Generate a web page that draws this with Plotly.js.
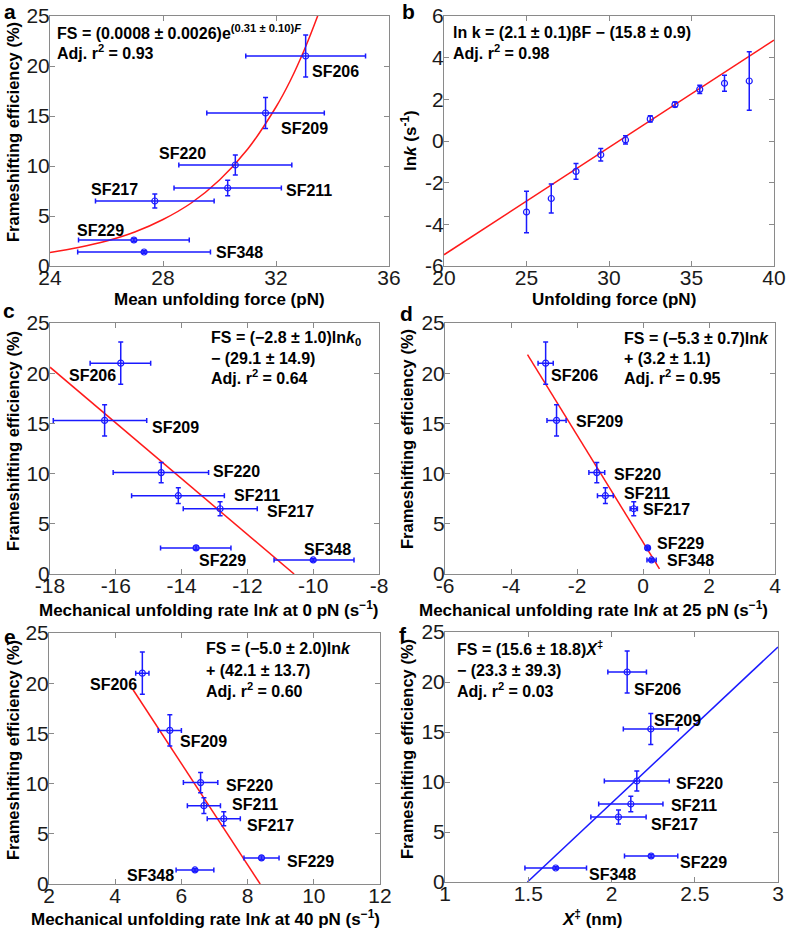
<!DOCTYPE html>
<html>
<head>
<meta charset="utf-8">
<script src="https://cdn.plot.ly/plotly-3.0.1.min.js"></script>
<style>html,body{margin:0;padding:0;background:#fff;}#chart{width:787px;height:933px;}</style>
</head>
<body>
<div id="chart"></div>
<script>
// ---------------- DATA ----------------
const constructs = ['SF206', 'SF209', 'SF220', 'SF211', 'SF217', 'SF229', 'SF348'];
const fsEff = [21.0, 15.3, 10.1, 7.8, 6.5, 2.6, 1.4];
const fsErr = [2.1, 1.55, 1.0, 0.78, 0.7, 0.18, 0.12];

// panel a: mean unfolding force
const meanForce = [33.05, 31.63, 30.56, 30.29, 27.71, 26.97, 27.33];
const meanForceErr = [2.12, 2.08, 2.0, 1.9, 2.1, 1.96, 2.35];
const fitA_force = [24, 25, 26, 27, 28, 29, 30, 31, 32, 32.5, 33, 33.5, 33.7];
const fitA_fs = [1.35, 1.85, 2.5, 3.4, 4.65, 6.3, 8.6, 11.7, 15.9, 18.5, 21.6, 25.2, 26.8];

// panel b: lnk vs unfolding force
const forceB = [25, 26.5, 28, 29.5, 31, 32.5, 34, 35.5, 37, 38.5];
const lnkB = [-3.41, -2.76, -1.46, -0.66, 0.05, 1.06, 1.75, 2.48, 2.77, 2.88];
const lnkBErr = [1.0, 0.7, 0.38, 0.3, 0.2, 0.15, 0.12, 0.2, 0.38, 1.4];
const fitB_force = [20, 40];
const fitB_lnk = [-5.46, 4.84];

// panel c: lnk at 0 pN
const lnk0 = [-15.85, -16.34, -14.62, -14.1, -12.83, -13.56, -10.0];
const lnk0ErrPlus = [0.91, 1.28, 1.44, 1.40, 1.13, 1.06, 1.24];
const lnk0ErrMinus = [0.93, 1.56, 1.46, 1.42, 1.12, 1.08, 1.19];
const fitC_x = [-18, -10.58];
const fitC_y = [20.6, 0];

// panel d: lnk at 25 pN
const lnk25 = [-2.95, -2.62, -1.4, -1.14, -0.28, 0.14, 0.26];
const lnk25Err = [0.23, 0.29, 0.24, 0.24, 0.11, 0.05, 0.14];
const fitD_x = [-3.5, 0.5];
const fitD_y = [21.85, 0.5];

// panel e: lnk at 40 pN
const lnk40 = [4.82, 5.65, 6.58, 6.68, 7.28, 8.42, 6.41];
const lnk40Err = [0.2, 0.35, 0.52, 0.5, 0.5, 0.53, 0.57];
const fitE_x = [4.54, 8.38];
const fitE_y = [19.35, 0];

// panel f: X‡
const xDagger = [2.094, 2.236, 2.152, 2.116, 2.042, 2.238, 1.665];
const xDaggerErr = [0.116, 0.165, 0.195, 0.193, 0.166, 0.16, 0.185];
const fitF_x = [1.495, 3];
const fitF_y = [0, 23.5];

// tick labels
const ticksA_x = [24, 28, 32, 36];
const ticksFS = [0, 5, 10, 15, 20, 25];
const ticksB_x = [20, 25, 30, 35, 40];
const ticksB_y = [-6, -4, -2, 0, 2, 4, 6];
const ticksC_x = [-18, -16, -14, -12, -10, -8];
const ticksD_x = [-6, -4, -2, 0, 2, 4];
const ticksE_x = [2, 4, 6, 8, 10, 12];
const ticksF_x = [1, 1.5, 2, 2.5, 3];

// ---------------- LAYOUT HELPERS ----------------
const W = 787, H = 933;
const FONT = 'Liberation Sans, Arial, Helvetica, sans-serif';
const BLUE = '#1a1aff';
const RED = '#ff1a1a';
const px = x => x / W;
const py = y => 1 - y / H;
const lbl = v => String(v);

function axisBase(ticks, rng, anchor) {
  return {
    range: rng, anchor: anchor,
    tickmode: 'array', tickvals: ticks, ticktext: ticks.map(lbl),
    showgrid: false, zeroline: false, showline: true, mirror: 'ticks',
    linecolor: '#8a8a8a', linewidth: 1, ticks: 'inside', ticklen: 5, tickcolor: '#8a8a8a',
    tickfont: {family: FONT, size: 21, color: '#1a1a1a'}, fixedrange: true
  };
}
function axisX(dom, rng, ticks, anchor) {
  return Object.assign(axisBase(ticks, rng, anchor),
    {domain: [px(dom[0]), px(dom[1])], ticklabelstandoff: -7});
}
function axisY(dom, rng, ticks, anchor) {
  return Object.assign(axisBase(ticks, rng, anchor),
    {domain: [py(dom[1]), py(dom[0])], ticklabelstandoff: -5});
}

function pointsTrace(xs, ys, exPlus, exMinus, eyPlus, xa, ya) {
  return {
    type: 'scatter', mode: 'markers', x: xs, y: ys, xaxis: xa, yaxis: ya,
    marker: {symbol: 'circle-open', size: 6, color: BLUE, line: {width: 1.2, color: BLUE}},
    error_x: exPlus ? {type: 'data', symmetric: !exMinus, array: exPlus, arrayminus: exMinus || exPlus,
      color: BLUE, thickness: 1.5, width: 2.5} : {visible: false},
    error_y: {type: 'data', symmetric: true, array: eyPlus, color: BLUE, thickness: 1.5, width: 2.5},
    showlegend: false, hoverinfo: 'skip'
  };
}
function lineTrace(xs, ys, color, xa, ya, shape) {
  return {type: 'scatter', mode: 'lines', x: xs, y: ys, xaxis: xa, yaxis: ya,
    line: {color: color, width: 1.5, shape: shape || 'linear'}, showlegend: false, hoverinfo: 'skip'};
}

const traces = [
  lineTrace(fitA_force, fitA_fs, RED, 'x', 'y', 'spline'),
  pointsTrace(meanForce, fsEff, meanForceErr, null, fsErr, 'x', 'y'),
  lineTrace(fitB_force, fitB_lnk, RED, 'x2', 'y2'),
  pointsTrace(forceB, lnkB, null, null, lnkBErr, 'x2', 'y2'),
  lineTrace(fitC_x, fitC_y, RED, 'x3', 'y3'),
  pointsTrace(lnk0, fsEff, lnk0ErrPlus, lnk0ErrMinus, fsErr, 'x3', 'y3'),
  lineTrace(fitD_x, fitD_y, RED, 'x4', 'y4'),
  pointsTrace(lnk25, fsEff, lnk25Err, null, fsErr, 'x4', 'y4'),
  lineTrace(fitE_x, fitE_y, RED, 'x5', 'y5'),
  pointsTrace(lnk40, fsEff, lnk40Err, null, fsErr, 'x5', 'y5'),
  lineTrace(fitF_x, fitF_y, BLUE, 'x6', 'y6'),
  pointsTrace(xDagger, fsEff, xDaggerErr, null, fsErr, 'x6', 'y6')
];

// panel boxes in pixels: [x0, x1], [y0(top), y1(bottom)]
const boxes = {
  a: {x: [50, 389], y: [16, 266]},
  b: {x: [444, 774], y: [16, 266]},
  c: {x: [50, 379], y: [323, 574]},
  d: {x: [445, 775], y: [323, 574]},
  e: {x: [49, 380], y: [633, 884]},
  f: {x: [445, 778], y: [632, 882]}
};

const layout = {
  width: W, height: H, margin: {l: 0, r: 0, t: 0, b: 0},
  paper_bgcolor: '#fff', plot_bgcolor: '#fff', showlegend: false,
  font: {family: FONT, color: '#000'},
  xaxis: axisX(boxes.a.x, [24, 36], ticksA_x, 'y'),
  yaxis: axisY(boxes.a.y, [0, 25], ticksFS, 'x'),
  xaxis2: axisX(boxes.b.x, [20, 40], ticksB_x, 'y2'),
  yaxis2: axisY(boxes.b.y, [-6, 6], ticksB_y, 'x2'),
  xaxis3: axisX(boxes.c.x, [-18, -8], ticksC_x, 'y3'),
  yaxis3: axisY(boxes.c.y, [0, 25], ticksFS, 'x3'),
  xaxis4: axisX(boxes.d.x, [-6, 4], ticksD_x, 'y4'),
  yaxis4: axisY(boxes.d.y, [0, 25], ticksFS, 'x4'),
  xaxis5: axisX(boxes.e.x, [2, 12], ticksE_x, 'y5'),
  yaxis5: axisY(boxes.e.y, [0, 25], ticksFS, 'x5'),
  xaxis6: axisX(boxes.f.x, [1, 3], ticksF_x, 'y6'),
  yaxis6: axisY(boxes.f.y, [0, 25], ticksFS, 'x6'),
  annotations: []
};

const ann = layout.annotations;
function paperText(text, x, y, size, opts) {
  ann.push(Object.assign({text: text, xref: 'paper', yref: 'paper', x: px(x), y: py(y),
    xanchor: 'left', yanchor: 'middle', showarrow: false,
    font: {family: FONT, size: size, color: '#000'}}, opts || {}));
}
// construct labels: positions (left edge, middle) in data units per panel
const labelPos = {
  x:  [[33.2, 19.5], [32.11, 13.75], [27.77, 11.25], [32.28, 7.58], [25.39, 7.64], [24.88, 3.57], [29.8, 1.34]],
  x3: [[-17.49, 19.74], [-14.96, 14.6], [-13.12, 10.19], [-12.48, 7.79], [-11.47, 6.19], [-13.52, 1.3], [-10.35, 2.43]],
  x4: [[-2.86, 19.77], [-2.09, 15.18], [-0.95, 9.92], [-0.65, 8.02], [-0.06, 6.39], [0.35, 3.03], [0.67, 1.36]],
  x5: [[3.18, 19.84], [5.9, 14.18], [7.28, 9.85], [7.46, 7.92], [7.92, 5.86], [9.13, 2.2], [4.29, 0.87]],
  x6: [[2.126, 19.27], [2.246, 16.13], [2.377, 9.83], [2.343, 7.67], [2.228, 5.8], [2.397, 2.0], [1.852, 0.73]]
};
const yOf = {x: 'y', x3: 'y3', x4: 'y4', x5: 'y5', x6: 'y6'};
Object.keys(labelPos).forEach(xa => {
  labelPos[xa].forEach((p, i) => {
    ann.push({text: '<b>' + constructs[i] + '</b>', xref: xa, yref: yOf[xa], x: p[0], y: p[1],
      xanchor: 'left', yanchor: 'middle', showarrow: false,
      font: {family: FONT, size: 16, color: '#000'}});
  });
});

// equations
paperText('<b>FS = (0.0008 ± 0.0026)e<sup>(0.31 ± 0.10)<i>F</i></sup></b>', 55, 32, 16);
paperText('<b>Adj. r<sup>2</sup> = 0.93</b>', 55, 52, 16);
paperText('<b>ln k = (2.1 ± 0.1)βF − (15.8 ± 0.9)</b>', 451, 32, 16);
paperText('<b>Adj. r<sup>2</sup> = 0.98</b>', 451, 52, 16);
paperText('<b>FS = (−2.8 ± 1.0)ln<i>k</i><sub>0</sub></b>', 209, 338, 16);
paperText('<b>− (29.1 ± 14.9)</b>', 209, 358, 16);
paperText('<b>Adj. r<sup>2</sup> = 0.64</b>', 209, 377, 16);
paperText('<b>FS = (−5.3 ± 0.7)ln<i>k</i></b>', 622, 338, 16);
paperText('<b>+ (3.2 ± 1.1)</b>', 622, 358, 16);
paperText('<b>Adj. r<sup>2</sup> = 0.95</b>', 622, 377, 16);
paperText('<b>FS = (−5.0 ± 2.0)ln<i>k</i></b>', 204, 648, 16);
paperText('<b>+ (42.1 ± 13.7)</b>', 204, 670, 16);
paperText('<b>Adj. r<sup>2</sup> = 0.60</b>', 204, 690, 16);
paperText('<b>FS = (15.6 ± 18.8)<i>X</i><sup>‡</sup></b>', 455, 648, 16);
paperText('<b>− (23.3 ± 39.3)</b>', 455, 670, 16);
paperText('<b>Adj. r<sup>2</sup> = 0.03</b>', 455, 690, 16);

// panel letters
paperText('<b>a</b>', 10, 12, 21, {xanchor: 'center'});
paperText('<b>b</b>', 408, 11, 21, {xanchor: 'center'});
paperText('<b>c</b>', 9, 311, 21, {xanchor: 'center'});
paperText('<b>d</b>', 406, 313, 21, {xanchor: 'center'});
paperText('<b>e</b>', 10, 636, 21, {xanchor: 'center'});
paperText('<b>f</b>', 403, 634, 21, {xanchor: 'center'});

// axis titles
const C = {xanchor: 'center'};
paperText('<b>Mean unfolding force (pN)</b>', 219, 299, 17, C);
paperText('<b>Unfolding force (pN)</b>', 614, 299, 17, C);
paperText('<b>Mechanical unfolding rate ln<i>k</i> at 0 pN (s<sup>−1</sup>)</b>', 208, 609, 17, C);
paperText('<b>Mechanical unfolding rate ln<i>k</i> at 25 pN (s<sup>−1</sup>)</b>', 593, 609, 17, C);
paperText('<b>Mechanical unfolding rate ln<i>k</i> at 40 pN (s<sup>−1</sup>)</b>', 205, 918, 17, C);
paperText('<b><i>X</i><sup>‡</sup> (nm)</b>', 592, 918, 17, C);
const R = {xanchor: 'center', textangle: -90};
paperText('<b>Frameshifting efficiency (%)</b>', 13, 132, 16.5, R);
paperText('<b>ln<i>k</i> (s<sup>-1</sup>)</b>', 409, 141, 17, R);
paperText('<b>Frameshifting efficiency (%)</b>', 13, 441, 16.5, R);
paperText('<b>Frameshifting efficiency (%)</b>', 407, 439, 16.5, R);
paperText('<b>Frameshifting efficiency (%)</b>', 13, 750, 16.5, R);
paperText('<b>Frameshifting efficiency (%)</b>', 407, 749, 16.5, R);

Plotly.newPlot('chart', traces, layout, {staticPlot: true, displayModeBar: false});
</script>
</body>
</html>
